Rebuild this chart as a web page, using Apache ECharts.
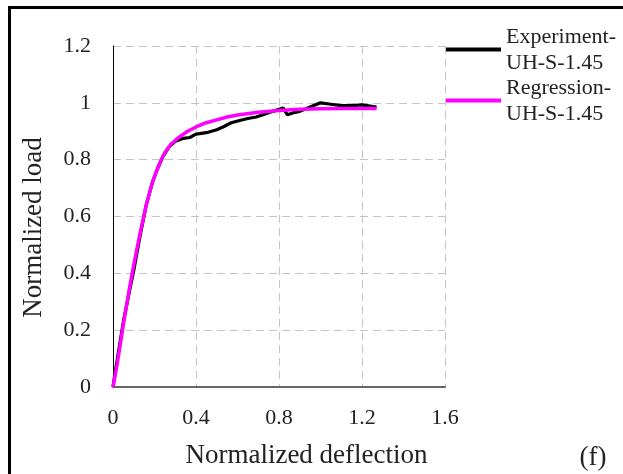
<!DOCTYPE html>
<html>
<head>
<meta charset="utf-8">
<script src="https://cdn.jsdelivr.net/npm/echarts@6/dist/echarts.min.js"></script>
<style>html,body{margin:0;padding:0;background:#fff}#c{width:623px;height:474px}</style>
</head>
<body>
<div id="c"></div>
<script>
const expX = [0, 0.01, 0.03, 0.05, 0.08, 0.10, 0.13, 0.16, 0.19, 0.21, 0.24, 0.27, 0.30, 0.34, 0.37, 0.40, 0.45, 0.50, 0.53, 0.57, 0.61, 0.65, 0.69, 0.73, 0.77, 0.82, 0.84, 0.87, 0.90, 0.95, 1.00, 1.05, 1.10, 1.15, 1.20, 1.27];
const expY = [0, 0.05, 0.14, 0.23, 0.34, 0.41, 0.53, 0.64, 0.72, 0.76, 0.81, 0.845, 0.865, 0.875, 0.878, 0.89, 0.895, 0.905, 0.915, 0.93, 0.938, 0.945, 0.95, 0.96, 0.97, 0.982, 0.958, 0.965, 0.97, 0.985, 1.0, 0.995, 0.99, 0.99, 0.993, 0.985];
const regX = [0, 0.02, 0.05, 0.08, 0.10, 0.13, 0.16, 0.19, 0.22, 0.25, 0.28, 0.32, 0.36, 0.40, 0.45, 0.50, 0.55, 0.60, 0.70, 0.80, 0.90, 1.00, 1.10, 1.20, 1.27];
const regY = [0, 0.08, 0.22, 0.35, 0.43, 0.54, 0.64, 0.72, 0.78, 0.825, 0.855, 0.88, 0.90, 0.915, 0.93, 0.94, 0.95, 0.957, 0.967, 0.973, 0.977, 0.979, 0.98, 0.98, 0.98];
const seriesNames = ['Experiment-\nUH-S-1.45', 'Regression-\nUH-S-1.45'];
const xTicks = {min: 0, max: 1.6, interval: 0.4};
const yTicks = {min: 0, max: 1.2, interval: 0.2};

const zip = (a, b) => a.map((v, i) => [v, b[i]]);
const serif = '"Liberation Serif", "Times New Roman", serif';
const chart = echarts.init(document.getElementById('c'));
const gridDash = {type: [8, 5]};
chart.setOption({
  animation: false,
  grid: {left: 113, right: 178, top: 46, bottom: 86},
  xAxis: {
    type: 'value', min: xTicks.min, max: xTicks.max, interval: xTicks.interval,
    name: 'Normalized deflection', nameLocation: 'middle', nameGap: 55,
    nameTextStyle: {fontFamily: serif, fontSize: 27, color: '#222', padding: [0, 0, 0, 55]},
    axisLine: {show: true, lineStyle: {color: '#666', width: 2}},
    axisTick: {show: false},
    axisLabel: {fontFamily: serif, fontSize: 22, color: '#222', margin: 20},
    splitLine: {show: true, lineStyle: {color: '#c4c4c4', width: 1, type: gridDash.type}}
  },
  yAxis: {
    type: 'value', min: yTicks.min, max: yTicks.max, interval: yTicks.interval,
    name: 'Normalized load', nameLocation: 'middle', nameGap: 66,
    nameTextStyle: {fontFamily: serif, fontSize: 27, color: '#222', padding: [0, 22, 0, 0]},
    nameRotate: 90,
    axisLine: {show: true, lineStyle: {color: '#000', width: 1}},
    axisTick: {show: false},
    axisLabel: {fontFamily: serif, fontSize: 22, color: '#222', margin: 22},
    splitLine: {show: true, lineStyle: {color: '#c4c4c4', width: 1, type: gridDash.type}}
  },
  series: [
    {name: seriesNames[0], type: 'line', data: zip(expX, expY), showSymbol: false,
     lineStyle: {color: '#000', width: 3.2}, z: 2},
    {name: seriesNames[1], type: 'line', data: zip(regX, regY), showSymbol: false,
     lineStyle: {color: '#ff00ff', width: 3.5}, z: 3}
  ],
  graphic: [
    {type: 'rect', shape: {x: 9.5, y: 7.5, width: 800, height: 800}, style: {fill: 'none', stroke: '#000', lineWidth: 3}, silent: true},
    {type: 'line', shape: {x1: 446, y1: 49.5, x2: 501, y2: 49.5}, style: {stroke: '#000', lineWidth: 4}},
    {type: 'text', x: 506, y: 50, style: {text: seriesNames[0], font: '22px ' + serif, fill: '#222', verticalAlign: 'middle', lineHeight: 25.5}},
    {type: 'line', shape: {x1: 446, y1: 100.5, x2: 501, y2: 100.5}, style: {stroke: '#ff00ff', lineWidth: 4}},
    {type: 'text', x: 506, y: 101, style: {text: seriesNames[1], font: '22px ' + serif, fill: '#222', verticalAlign: 'middle', lineHeight: 25.5}},
    {type: 'text', x: 593, y: 458, style: {text: '(f)', font: '27px ' + serif, fill: '#222', align: 'center', verticalAlign: 'middle'}}
  ]
});
</script>
</body>
</html>
